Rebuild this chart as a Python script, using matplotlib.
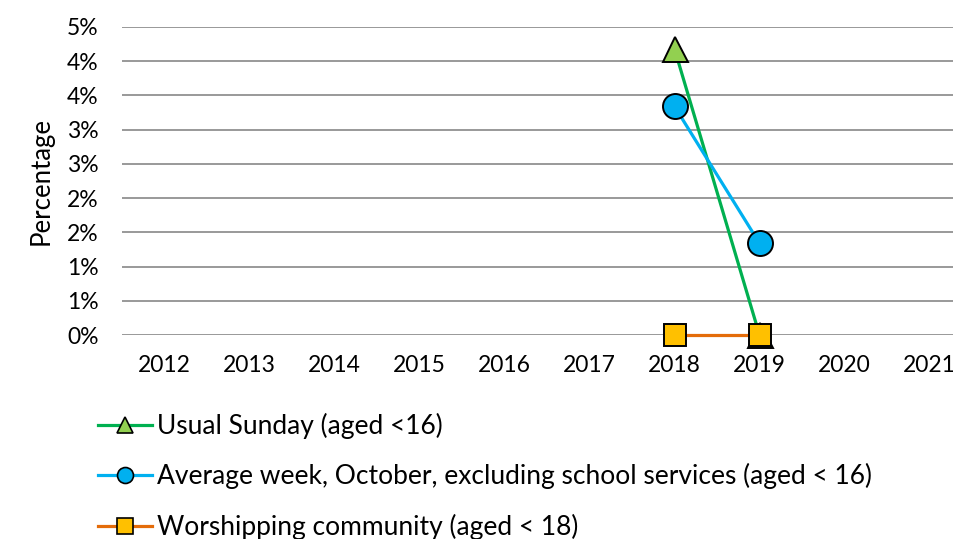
import math
import matplotlib
matplotlib.use("Agg")
import matplotlib.pyplot as plt
from matplotlib.ticker import FuncFormatter, MultipleLocator

plt.rcParams['font.family'] = ['Lato', 'DejaVu Sans']

years = ["2012", "2013", "2014", "2015", "2016", "2017", "2018", "2019", "2020", "2021"]

# percentages (as fractions), None where no data
usual_sunday = [None, None, None, None, None, None, 0.0418, 0.0, None, None]
average_week = [None, None, None, None, None, None, 0.0334, 0.0134, None, None]
worshipping = [None, None, None, None, None, None, 0.0, 0.0, None, None]

labels = [
    "Usual Sunday (aged <16)",
    "Average week, October, excluding school services (aged < 16)",
    "Worshipping community (aged < 18)",
]

W, H = 954, 539
fig = plt.figure(figsize=(W / 100, H / 100), dpi=100)
left, right, top, bottom = 122, 972, 27, 335
ax = fig.add_axes([left / W, 1 - bottom / H, (right - left) / W, (bottom - top) / H])

x = list(range(len(years)))


def series(vals):
    xs = [i for i, v in zip(x, vals) if v is not None]
    ys = [v for v in vals if v is not None]
    return xs, ys


# values, line colour, marker fill, marker, plot size, legend size
styles = [
    (usual_sunday, "#00B050", "#92D050", "^", 18, 11),
    (average_week, "#00B0F0", "#00B0F0", "o", 18, 11.5),
    (worshipping, "#E46C0A", "#FFC000", "s", 16, 11),
]

handles = []
for (vals, lc, fc, mk, ms, lms), lab in zip(styles, labels):
    xs, ys = series(vals)
    ax.plot(xs, ys, color=lc, lw=2.3, marker=mk, ms=ms, mfc=fc, mec="black",
            mew=1.4, clip_on=False, zorder=3)
    h, = ax.plot([], [], color=lc, lw=2.3, marker=mk, ms=lms, mfc=fc, mec="black",
                 mew=1.2, label=lab)
    handles.append(h)

ax.set_xlim(-0.5, len(years) - 0.5)
ax.set_ylim(0, 0.045)
ax.yaxis.set_major_locator(MultipleLocator(0.005))
ax.yaxis.set_major_formatter(FuncFormatter(lambda v, p: f"{math.floor(v * 100 + 0.5 + 1e-9):d}%"))
ax.set_xticks(x)
ax.set_xticklabels(years)

ax.grid(axis="y", color="#878787", lw=1.2)
ax.set_axisbelow(True)
for s in ax.spines.values():
    s.set_visible(False)
ax.tick_params(axis="both", length=0, labelsize=16.5, colors="black")
ax.tick_params(axis="y", pad=17)
ax.tick_params(axis="x", pad=14.5)

ax.set_ylabel("Percentage", fontsize=18.5)
ax.yaxis.set_label_coords(-(122 - 54) / 850, 0.5)

fig.legend(handles=handles, loc="upper left", bbox_to_anchor=(98 / W, 1 - 413 / H),
           frameon=False, fontsize=19, handlelength=2.05, handletextpad=0.2,
           labelspacing=0.92, borderaxespad=0, borderpad=0)

fig.savefig("out.png", dpi=100)
